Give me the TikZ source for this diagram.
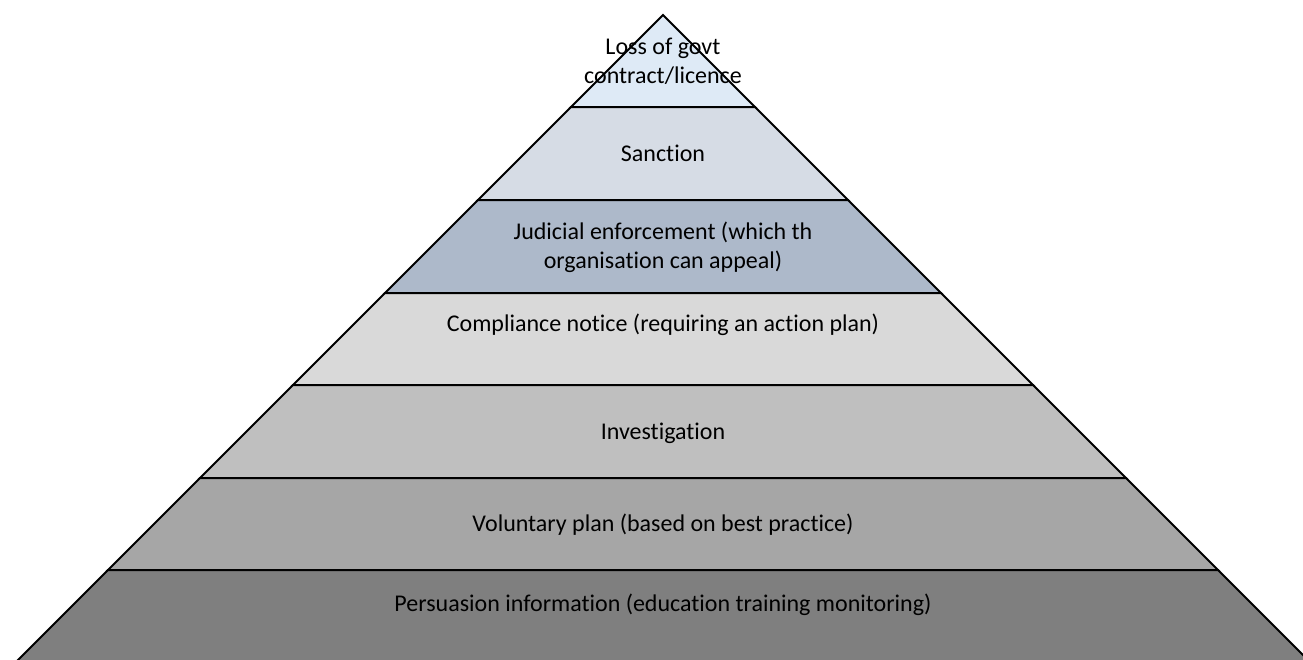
\documentclass[tikz,border=0pt]{standalone}
\usepackage{fontspec}
\setmainfont{Carlito}[Ligatures=NoCommon]
\definecolor{c1}{HTML}{DEEAF6}
\definecolor{c2}{HTML}{D6DCE5}
\definecolor{c3}{HTML}{ADB9CA}
\definecolor{c4}{HTML}{D9D9D9}
\definecolor{c5}{HTML}{BFBFBF}
\definecolor{c6}{HTML}{A6A6A6}
\definecolor{c7}{HTML}{7F7F7F}
\begin{document}
\begin{tikzpicture}[x=1pt,y=-1pt,
  band/.style={draw=black,line width=2pt,line join=miter},
  lbl/.style={font=\fontsize{24}{29}\selectfont,align=center,text=black,inner sep=0pt}]
\useasboundingbox (0,0) rectangle (1303,659);
% apex (663,15); edges slope 1
\newcommand{\bandfill}[3]{%
  \filldraw[band,fill=#3] ({663-(#1-15)},#1) -- ({663+(#1-15)},#1) -- ({663+(#2-15)},#2) -- ({663-(#2-15)},#2) -- cycle;}
\filldraw[band,fill=c1] (663,15) -- ({663+92},107) -- ({663-92},107) -- cycle;
\bandfill{107}{200}{c2}
\bandfill{200}{293}{c3}
\bandfill{293}{385}{c4}
\bandfill{385}{478}{c5}
\bandfill{478}{570}{c6}
\bandfill{570}{664}{c7}
\node[lbl] (t1) at (663,61) {Loss of govt\\contract/licence};
\node[lbl] (t2) at (663,153) {Sanction};
\node[lbl] (t3) at (663,247) {Judicial enforcement (which th\\organisation can appeal)};
\node[lbl] (t4) at (663,325) {Compliance notice (requiring an action plan)};
\node[lbl] (t5) at (663,433) {Investigation};
\node[lbl] (t6) at (663,525) {Voluntary plan (based on best practice)};
\node[lbl] (t7) at (663,605) {Persuasion information (education training monitoring)};
\end{tikzpicture}
\end{document}
